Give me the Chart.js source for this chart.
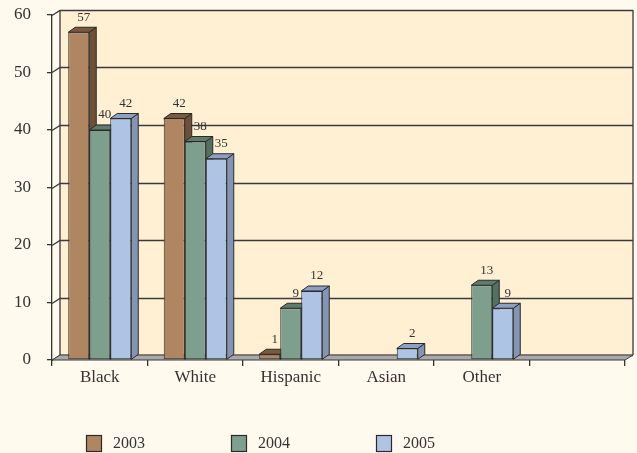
<!DOCTYPE html>
<html>
<head>
<meta charset="utf-8">
<script src="https://cdn.jsdelivr.net/npm/chart.js@4"></script>
<style>
  html, body { margin: 0; padding: 0; background: #FFF9EE; }
  #wrap { width: 637px; height: 453px; }
</style>
</head>
<body>
<div id="wrap"><canvas id="raceChart" width="637" height="453"></canvas></div>
<script>
// Data
const categories = ['Black', 'White', 'Hispanic', 'Asian', 'Other', ''];
const years = ['2003', '2004', '2005'];
const values2003 = [57, 42, 1, null, null, null];
const values2004 = [40, 38, 9, null, 13, null];
const values2005 = [42, 35, 12, 2, 9, null];
const yTicks = [0, 10, 20, 30, 40, 50, 60];

const SERIF = "'Liberation Serif', 'DejaVu Serif', serif";
const INK = '#333333';

// depth of the back wall and of each bar
const DX = 8, DY = 5;
const BX = 7, BY = 5;

function poly(ctx, pts) {
    ctx.beginPath();
    ctx.moveTo(pts[0][0], pts[0][1]);
    for (let i = 1; i < pts.length; i++) ctx.lineTo(pts[i][0], pts[i][1]);
    ctx.closePath();
    ctx.fill();
    ctx.stroke();
}

const depthPlugin = {
    id: 'depth',
    beforeDatasetsDraw(chart) {
        const { ctx, chartArea: a, scales: { y } } = chart;
        ctx.save();
        // back wall
        ctx.fillStyle = '#FFF0D4';
        ctx.fillRect(a.left + DX, a.top - DY, a.right - a.left, a.bottom - a.top);

        // gridlines on the wall, joined to the front axis ticks
        ctx.strokeStyle = '#3a3a3a';
        ctx.lineWidth = 1.3;
        yTicks.forEach(v => {
            const py = Math.round(y.getPixelForValue(v)) + 0.5;
            ctx.beginPath();
            ctx.moveTo(a.left, py);
            ctx.lineTo(a.left + DX, py - DY);
            ctx.lineTo(a.right + DX, py - DY);
            ctx.stroke();
        });
        // wall edges
        ctx.beginPath();
        ctx.moveTo(a.left + DX, a.bottom - DY);
        ctx.lineTo(a.left + DX, a.top - DY);
        ctx.moveTo(a.right + DX, a.top - DY);
        ctx.lineTo(a.right + DX, a.bottom - DY);
        ctx.stroke();

        // floor
        ctx.fillStyle = '#A9A9A9';
        ctx.lineWidth = 1;
        poly(ctx, [[a.left, a.bottom], [a.right, a.bottom],
                   [a.right + DX, a.bottom - DY], [a.left + DX, a.bottom - DY]]);

        // side and top faces of the bars
        ctx.strokeStyle = '#2a2a2a';
        chart.data.datasets.forEach((ds, i) => {
            const meta = chart.getDatasetMeta(i);
            meta.data.forEach((bar, j) => {
                if (ds.data[j] == null) return;
                const p = bar.getProps(['x', 'y', 'base', 'width'], true);
                const l = p.x - p.width / 2, r = p.x + p.width / 2;
                ctx.fillStyle = ds.sideColor;
                poly(ctx, [[r, p.y], [r + BX, p.y - BY], [r + BX, p.base - BY], [r, p.base]]);
                ctx.fillStyle = ds.topColor;
                poly(ctx, [[l, p.y], [l + BX, p.y - BY], [r + BX, p.y - BY], [r, p.y]]);
            });
        });
        ctx.restore();
    },
    afterDatasetsDraw(chart) {
        const { ctx } = chart;
        ctx.save();
        ctx.font = '13px ' + SERIF;
        ctx.fillStyle = INK;
        ctx.textAlign = 'center';
        ctx.textBaseline = 'middle';
        chart.data.datasets.forEach((ds, i) => {
            chart.getDatasetMeta(i).data.forEach((bar, j) => {
                const v = ds.data[j];
                if (v == null) return;
                ctx.fillText(String(v), bar.x + 5, bar.y - 15);
            });
        });
        ctx.restore();
    },
    afterDraw(chart) {
        // legend along the bottom
        const { ctx } = chart;
        ctx.save();
        ctx.font = '16px ' + SERIF;
        ctx.textBaseline = 'middle';
        ctx.lineWidth = 1.2;
        ctx.strokeStyle = '#2a2a2a';
        chart.data.datasets.forEach((ds, i) => {
            const bx = 86 + i * 145, by = 435;
            ctx.fillStyle = ds.backgroundColor;
            ctx.fillRect(bx, by, 15, 16);
            ctx.strokeRect(bx + 0.5, by + 0.5, 15, 16);
            ctx.fillStyle = INK;
            ctx.fillText(ds.label, bx + 27, by + 9);
        });
        ctx.restore();
    }
};

function series(label, data, front, side, top) {
    return {
        label: label,
        data: data,
        backgroundColor: front,
        sideColor: side,
        topColor: top,
        borderColor: '#2a2a2a',
        borderWidth: 1,
        borderSkipped: false,
        categoryPercentage: 0.66,
        barPercentage: 1.0
    };
}

new Chart(document.getElementById('raceChart').getContext('2d'), {
    type: 'bar',
    data: {
        labels: categories,
        datasets: [
            series(years[0], values2003, '#B08561', '#6E5038', '#7A5A3E'),
            series(years[1], values2004, '#7E9E8E', '#54705F', '#5E7C6C'),
            series(years[2], values2005, '#AEC4E4', '#8394B4', '#8DA0C2')
        ]
    },
    options: {
        responsive: false,
        animation: false,
        layout: { padding: { top: 15, right: 12, bottom: 63, left: 0 } },
        plugins: {
            legend: { display: false },
            tooltip: { enabled: false }
        },
        scales: {
            x: {
                afterFit(scale) { scale.height = 30; },
                grid: { offset: true, drawOnChartArea: false, drawTicks: true, tickLength: 6, color: INK, lineWidth: 1.3 },
                border: { display: false },
                ticks: { color: INK, font: { family: SERIF, size: 17 }, padding: 1, maxRotation: 0 }
            },
            y: {
                min: 0,
                max: 60,
                afterFit(scale) {
                    scale.width = 52;
                    scale.paddingTop = 0;
                    scale.paddingBottom = 0;
                },
                afterBuildTicks(scale) { scale.ticks = yTicks.map(v => ({ value: v })); },
                grid: { drawOnChartArea: false, drawTicks: true, tickLength: 5, color: INK, lineWidth: 1.3 },
                border: { display: true, color: INK, width: 1.3 },
                ticks: { color: INK, font: { family: SERIF, size: 17 }, padding: 16 }
            }
        }
    },
    plugins: [depthPlugin]
});
</script>
</body>
</html>
